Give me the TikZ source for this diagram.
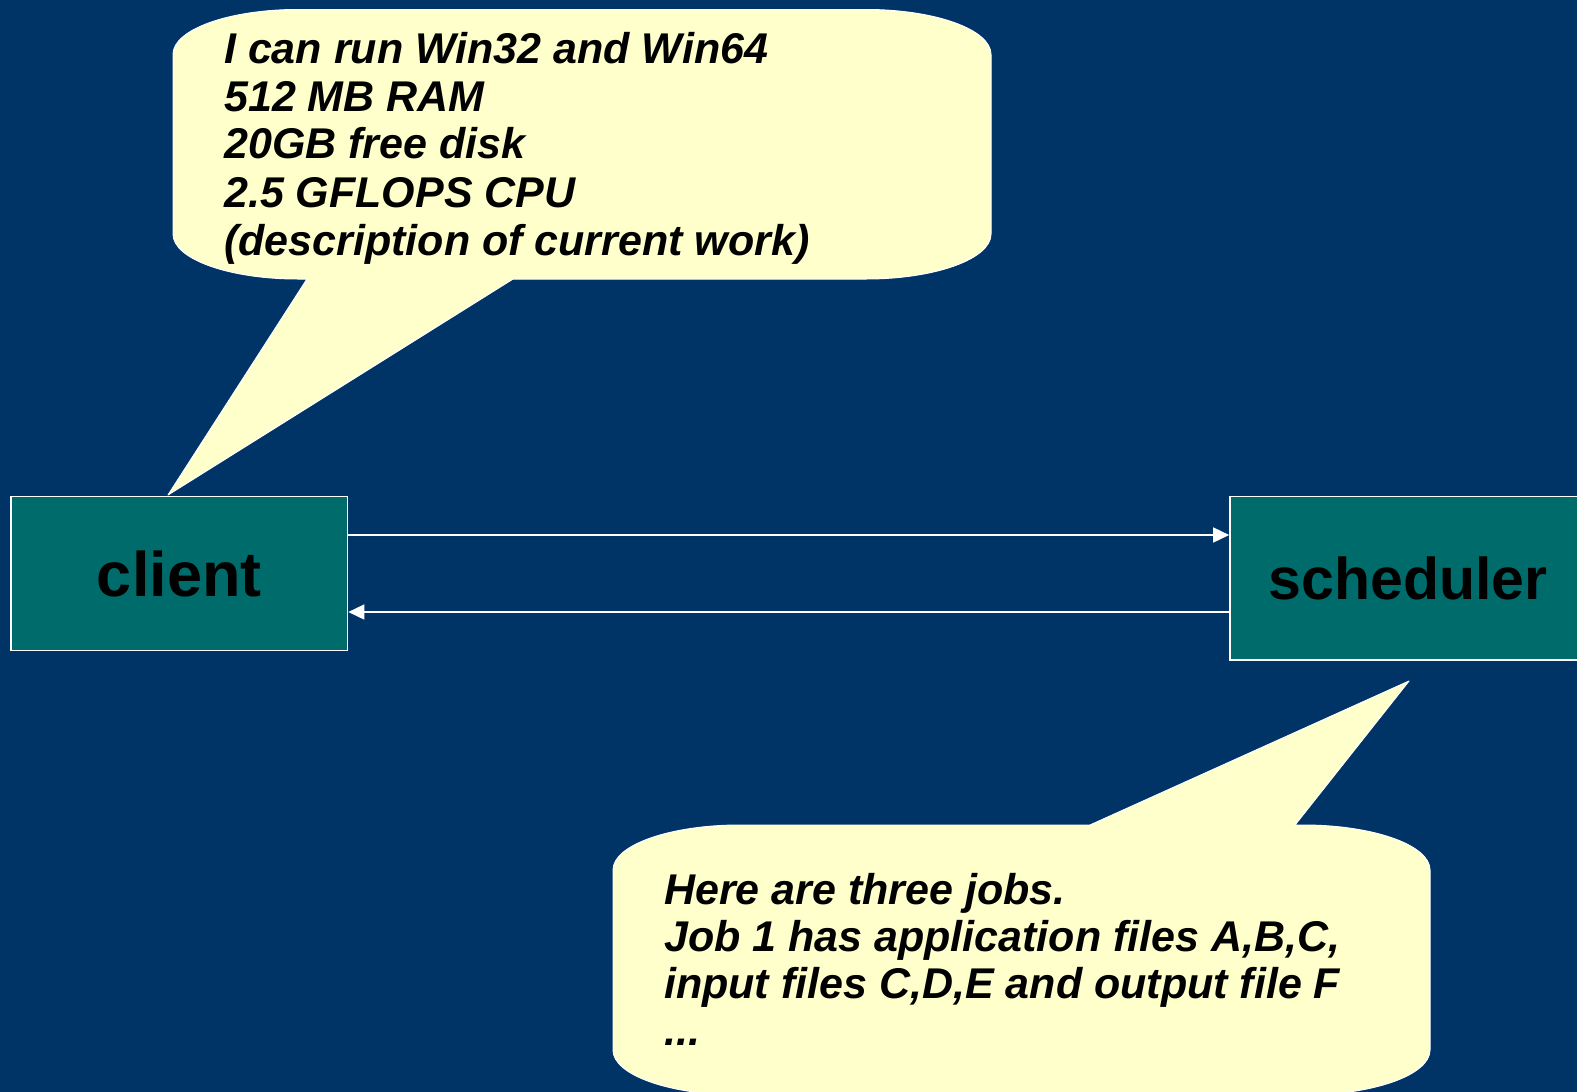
\documentclass[tikz,border=0pt]{standalone}
\usepackage{fontspec}
\setmainfont{Liberation Sans}
\usetikzlibrary{arrows.meta}
\definecolor{bgblue}{RGB}{0,51,102}
\definecolor{boxteal}{RGB}{0,107,107}
\definecolor{callyellow}{RGB}{255,255,204}
\tikzset{
  box/.style={draw=white, line width=1.6pt, fill=boxteal, rectangle, inner sep=0pt, font=\fontsize{63}{70}\selectfont\bfseries},
  callout/.style={draw=white, line width=1pt, fill=callyellow, line join=round},
  calltext/.style={inner sep=0pt, anchor=base west, font=\fontsize{43}{48}\selectfont\bfseries\itshape},
  arr/.style={draw=white, line width=1.5pt, -{Triangle[length=16pt,width=15pt]}}
}
\begin{document}
\begin{tikzpicture}[x=1pt,y=-1pt]
\useasboundingbox (0,0) rectangle (1577,1092);
\clip (0,0) rectangle (1577,1092);
\fill[bgblue] (0,0) rectangle (1577,1092);

% boxes
\node[box, minimum width=336.5pt, minimum height=154pt] (client) at (179.25,573.5) {client};
\node[box, minimum width=356pt, minimum height=163.5pt, font=\fontsize{59}{66}\selectfont\bfseries] (scheduler) at (1408,578.25) {scheduler};

% connectors
\coordinate (ytop) at (0,535);
\coordinate (ybot) at (0,612);
\draw[arr] (client.east |- ytop) -- (scheduler.west |- ytop);
\draw[arr] (scheduler.west |- ybot) -- (client.east |- ybot);

% top callout
\coordinate (tipA) at (168,495);
\path[callout] (298,9.5) -- (866,9.5)
  .. controls (935,9.5) and (991,29.5) .. (991,54.5)
  -- (991,234)
  .. controls (991,259) and (935,279) .. (866,279)
  -- (513,279) -- (tipA) -- (307,279) -- (298,279)
  .. controls (229,279) and (173,259) .. (173,234)
  -- (173,54.5)
  .. controls (173,29.5) and (229,9.5) .. (298,9.5) -- cycle;
\node[calltext] (clienttext) at (224,63) {\begin{tabular}[t]{@{}l@{}}I can run Win32 and Win64\\ 512 MB RAM\\ 20GB free disk\\ 2.5 GFLOPS CPU\\ (description of current work)\end{tabular}};

% bottom callout
\coordinate (tipB) at (1409,681);
\path[callout] (740,825) -- (1090,825) -- (tipB) -- (1295,825) -- (1303,825)
  .. controls (1373,825) and (1430,845) .. (1430,870)
  -- (1430,1050)
  .. controls (1430,1075) and (1373,1095) .. (1303,1095)
  -- (740,1095)
  .. controls (670,1095) and (613,1075) .. (613,1050)
  -- (613,870)
  .. controls (613,845) and (670,825) .. (740,825) -- cycle;
\node[calltext, font=\fontsize{43}{47}\selectfont\bfseries\itshape] (schedtext) at (664,904) {\begin{tabular}[t]{@{}l@{}}Here are three jobs.\\ Job 1 has application files A,B,C,\\ input files C,D,E and output file F\\ ...\end{tabular}};
\end{tikzpicture}
\end{document}
